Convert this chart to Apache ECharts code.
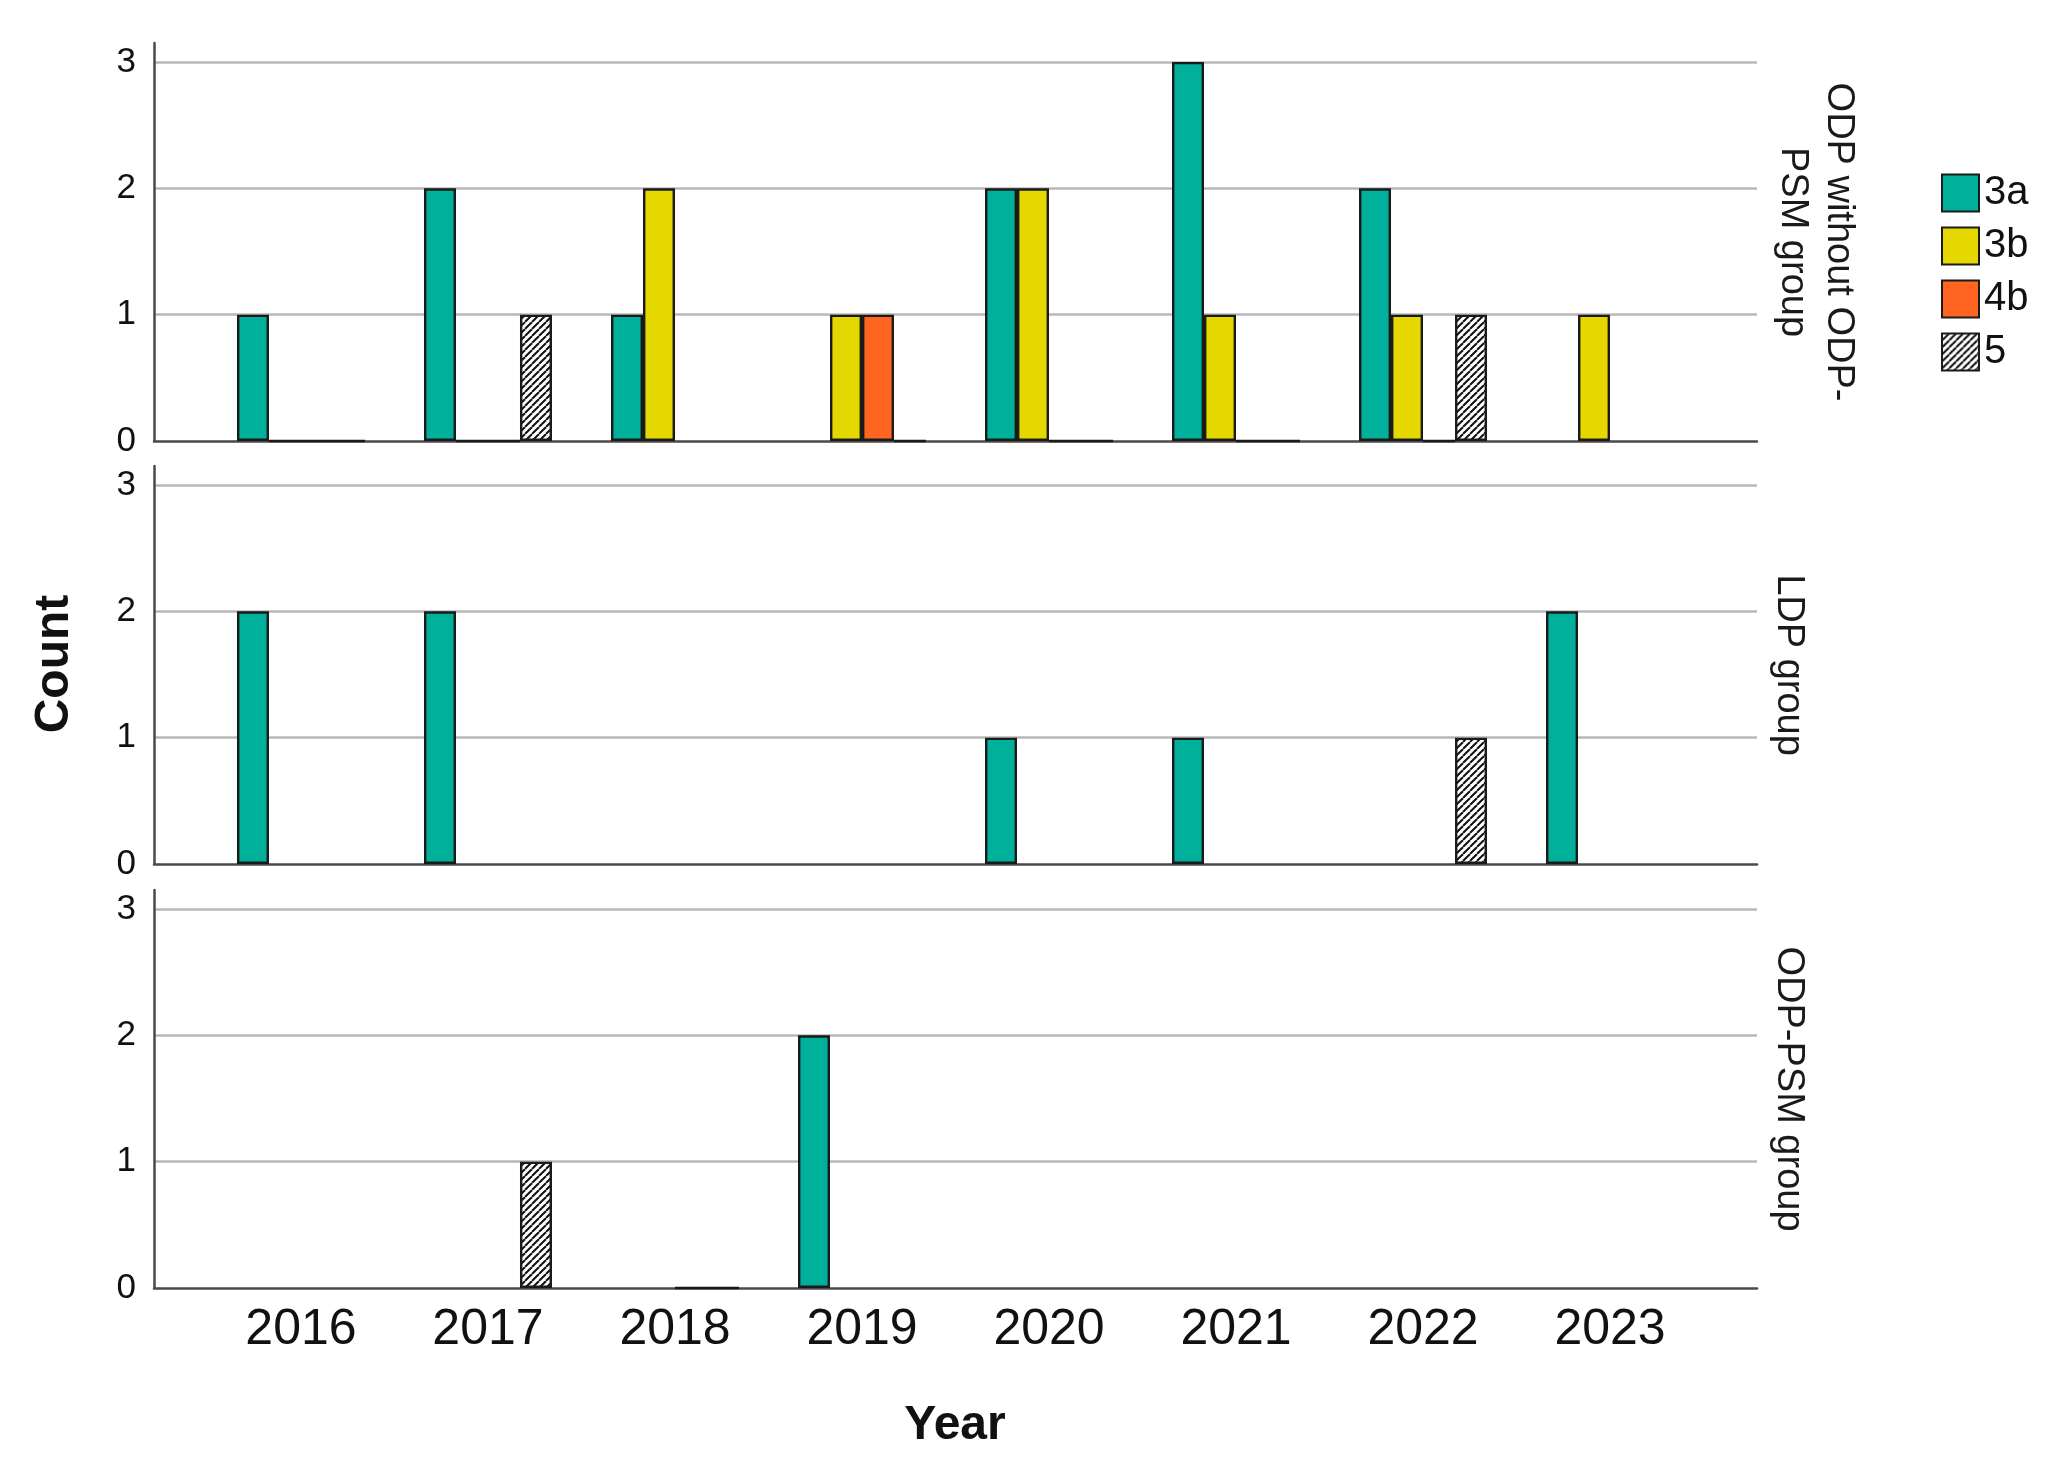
<!DOCTYPE html>
<html>
<head>
<meta charset="utf-8">
<script src="https://cdn.jsdelivr.net/npm/echarts@6/dist/echarts.min.js"></script>
<style>
html,body{margin:0;padding:0;background:#fff;}
#chart{width:2051px;height:1473px;}
</style>
</head>
<body>
<div id="chart"></div>
<script>
// ---------- data ----------
const years = [2016, 2017, 2018, 2019, 2020, 2021, 2022, 2023];
const grades = ['3a', '3b', '4b', '5'];
const panelNames = ['ODP without ODP-\nPSM group', 'LDP group', 'ODP-PSM group'];

// ODP without ODP-PSM group
const odp3a = [1, 2, 1, null, 2, 3, 2, null];
const odp3b = [0, 0, 2, 1, 2, 1, 1, 1];
const odp4b = [0, 0, null, 1, 0, 0, 0, null];
const odp5  = [0, 1, null, 0, 0, 0, 1, null];

// LDP group
const ldp3a = [2, 2, null, null, 1, 1, null, 2];
const ldp3b = [null, null, null, null, null, null, null, null];
const ldp4b = [null, null, null, null, null, null, null, null];
const ldp5  = [null, null, null, null, null, null, 1, null];

// ODP-PSM group
const psm3a = [null, null, null, 2, null, null, null, null];
const psm3b = [null, null, null, null, null, null, null, null];
const psm4b = [null, null, 0, null, null, null, null, null];
const psm5  = [null, 1, 0, null, null, null, null, null];

const panelData = [
  [odp3a, odp3b, odp4b, odp5],
  [ldp3a, ldp3b, ldp4b, ldp5],
  [psm3a, psm3b, psm4b, psm5]
];
const yTicks = [0, 1, 2, 3];

// ---------- styles ----------
const SANS = "'Liberation Sans',Arial,sans-serif";

function hatch() {
  const c = document.createElement('canvas');
  const w = 7, h = 7;
  c.width = w; c.height = h;
  const ctx = c.getContext('2d');
  ctx.fillStyle = '#ffffff';
  ctx.fillRect(0, 0, w, h);
  ctx.strokeStyle = '#111111';
  ctx.lineWidth = 2;
  for (const dx of [-w, 0, w]) {
    ctx.beginPath();
    ctx.moveTo(dx, h);
    ctx.lineTo(dx + w, 0);
    ctx.stroke();
  }
  return c;
}
const gradeColors = ['#00b09b', '#e5d700', '#ff6520', {image: hatch(), repeat: 'repeat'}];

const gridLeft = 154, gridRight = 294, gridH = 398;
const gridTops = [43, 466, 890];
const xMin = 2015.214, xMax = 2023.786;

const grids = [], xAxes = [], yAxes = [], series = [], graphics = [];
gridTops.forEach((top, p) => {
  grids.push({left: gridLeft, right: gridRight, top: top, height: gridH});
  xAxes.push({
    type: 'value', gridIndex: p, min: xMin, max: xMax,
    axisLine: {show: true, onZero: false, lineStyle: {color: '#4a4a4a', width: 2.5}},
    axisTick: {show: false},
    splitLine: {show: false},
    axisLabel: p === 2 ? {
      show: true, customValues: years, formatter: v => String(v),
      fontSize: 50, fontFamily: SANS, color: '#111', margin: 17
    } : {show: false}
  });
  yAxes.push({
    type: 'value', gridIndex: p, min: 0, max: 3.15, interval: 1,
    axisLine: {show: true, lineStyle: {color: '#4a4a4a', width: 2.5}},
    axisTick: {show: false},
    axisLabel: {show: true, customValues: yTicks,
      fontSize: 35, fontFamily: SANS, color: '#111', margin: 18},
    splitLine: {show: true, showMaxLine: false, showMinLine: false,
      lineStyle: {color: '#b8b8b8', width: 2.5}}
  });
  panelData[p].forEach((arr, g) => {
    series.push({
      type: 'bar', name: grades[g], xAxisIndex: p, yAxisIndex: p,
      barWidth: 32, barGap: '0%',
      data: years.map((y, i) => [y, arr[i]]),
      itemStyle: {color: gradeColors[g], borderColor: '#1a1a1a', borderWidth: 2.4},
      emphasis: {disabled: true},
      animation: false
    });
  });
});

// panel labels on the right
const panelLabelX = [1815, 1788, 1788];
gridTops.forEach((top, p) => {
  graphics.push({
    type: 'text', x: panelLabelX[p], y: top + gridH / 2, rotation: -Math.PI / 2,
    style: {text: panelNames[p], fontSize: 38, fontFamily: SANS, fill: '#1a1a1a',
      align: 'center', verticalAlign: 'middle', lineHeight: 46}
  });
});
graphics.push({
  type: 'text', x: 55, y: 664, rotation: Math.PI / 2,
  style: {text: 'Count', fontSize: 48, fontWeight: 'bold', fontFamily: SANS, fill: '#111',
    align: 'center', verticalAlign: 'middle'}
});
graphics.push({
  type: 'text', x: 955, y: 1426,
  style: {text: 'Year', fontSize: 48, fontWeight: 'bold', fontFamily: SANS, fill: '#111',
    align: 'center', verticalAlign: 'middle'}
});

const chart = echarts.init(document.getElementById('chart'), null, {renderer: 'canvas'});
chart.setOption({
  backgroundColor: '#ffffff',
  animation: false,
  grid: grids,
  xAxis: xAxes,
  yAxis: yAxes,
  legend: {
    data: grades, orient: 'vertical', left: 1936, top: 168,
    itemWidth: 37, itemHeight: 37, itemGap: 13, icon: 'rect',
    itemStyle: {borderColor: '#1a1a1a', borderWidth: 2},
    textStyle: {fontSize: 40, fontFamily: SANS, color: '#111', padding: [0, 0, 0, 0]},
    selectedMode: false
  },
  series: series,
  graphic: graphics
});
</script>
</body>
</html>
